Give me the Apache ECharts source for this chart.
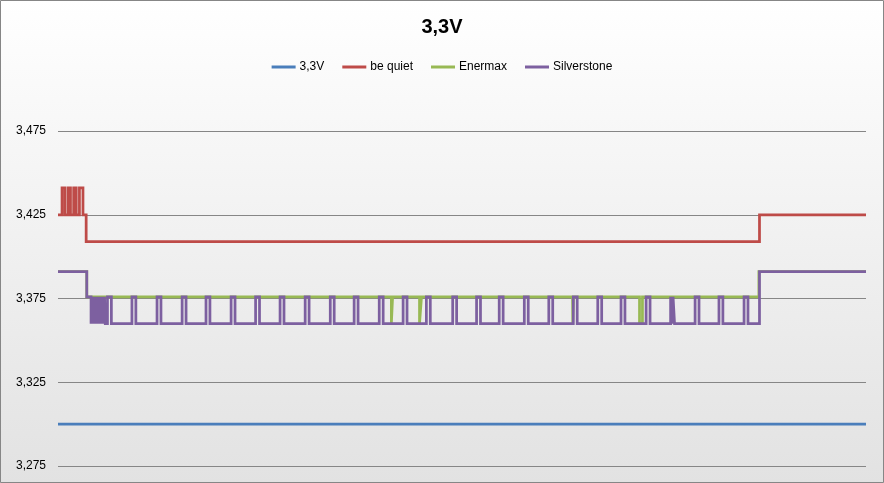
<!DOCTYPE html>
<html><head><meta charset="utf-8">
<script src="https://cdn.jsdelivr.net/npm/echarts@6/dist/echarts.min.js"></script>
<style>html,body{margin:0;padding:0;background:#fff}#c{width:884px;height:483px;}</style>
</head><body><div id="c"></div>
<script>
// ---- data (time in half-sample units, voltage in V) ----
const titleText = '3,3V';
const seriesNames = ['3,3V', 'be quiet', 'Enermax', 'Silverstone'];
const yTicks = [3.275, 3.325, 3.375, 3.425, 3.475];
const timeRange = [0, 660];

const rail33 = [[0, 3.3], [660, 3.3]];

const beQuiet = [
  [0, 3.425], [3.3, 3.425], [3.3, 3.441], [5.6, 3.441], [5.6, 3.425],
  [8.2, 3.425], [8.2, 3.441], [10.2, 3.441], [10.2, 3.425],
  [12.8, 3.425], [12.8, 3.441], [14.9, 3.441], [14.9, 3.425],
  [17.5, 3.425], [17.5, 3.441], [20.4, 3.441], [20.4, 3.425],
  [23, 3.425], [23, 3.409], [573, 3.409], [573, 3.425], [660, 3.425]
];

const enermax = [
  [0, 3.391], [23.5, 3.391], [23.5, 3.376],
  [272.3, 3.376], [272.3, 3.36], [273.3, 3.36], [273.3, 3.376],
  [295.3, 3.376], [295.3, 3.36], [296.9, 3.36], [296.9, 3.376],
  [420.3, 3.376], [420.5, 3.36], [420.9, 3.36], [421.1, 3.376],
  [475, 3.376], [475, 3.36], [477.4, 3.36], [477.4, 3.376],
  [572.5, 3.376], [572.5, 3.391], [660, 3.391]
];

const silverstone = [
  [0, 3.391], [23.5, 3.391], [23.5, 3.376], [27, 3.376],
  [27, 3.36], [28, 3.376], [29, 3.36], [30, 3.376], [31, 3.36], [32, 3.376], [33, 3.36],
  [34, 3.376], [35, 3.36], [36, 3.376], [37, 3.36], [38, 3.376], [38.6, 3.36],
  [40.4, 3.36], [40.4, 3.376], [43.6, 3.376], [43.6, 3.36],
  [60.4, 3.36], [60.4, 3.376], [63.6, 3.376], [63.6, 3.36],
  [80.9, 3.36], [80.9, 3.376], [84.1, 3.376], [84.1, 3.36],
  [101.4, 3.36], [101.4, 3.376], [104.6, 3.376], [104.6, 3.36],
  [120.9, 3.36], [120.9, 3.376], [124.1, 3.376], [124.1, 3.36],
  [141.4, 3.36], [141.4, 3.376], [144.6, 3.376], [144.6, 3.36],
  [161.4, 3.36], [161.4, 3.376], [164.6, 3.376], [164.6, 3.36],
  [181.4, 3.36], [181.4, 3.376], [184.6, 3.376], [184.6, 3.36],
  [201.9, 3.36], [201.9, 3.376], [205.1, 3.376], [205.1, 3.36],
  [222.4, 3.36], [222.4, 3.376], [225.6, 3.376], [225.6, 3.36],
  [241.9, 3.36], [241.9, 3.376], [245.1, 3.376], [245.1, 3.36],
  [262.4, 3.36], [262.4, 3.376], [265.6, 3.376], [265.6, 3.36],
  [281.9, 3.36], [281.9, 3.376], [285.1, 3.376], [285.1, 3.36],
  [300.9, 3.36], [300.9, 3.376], [304.1, 3.376], [304.1, 3.36],
  [322.4, 3.36], [322.4, 3.376], [325.6, 3.376], [325.6, 3.36],
  [341.9, 3.36], [341.9, 3.376], [345.1, 3.376], [345.1, 3.36],
  [360.4, 3.36], [360.4, 3.376], [363.6, 3.376], [363.6, 3.36],
  [380.9, 3.36], [380.9, 3.376], [384.1, 3.376], [384.1, 3.36],
  [400.9, 3.36], [400.9, 3.376], [404.1, 3.376], [404.1, 3.36],
  [420.9, 3.36], [420.9, 3.376], [424.1, 3.376], [424.1, 3.36],
  [440.9, 3.36], [440.9, 3.376], [444.1, 3.376], [444.1, 3.36],
  [459.9, 3.36], [459.9, 3.376], [463.1, 3.376], [463.1, 3.36],
  [480.4, 3.36], [480.4, 3.376], [483.6, 3.376], [483.6, 3.36],
  [500.4, 3.36], [500.4, 3.376], [501.4, 3.36], [502.4, 3.376], [503.6, 3.376], [503.6, 3.36],
  [520.4, 3.36], [520.4, 3.376], [523.6, 3.376], [523.6, 3.36],
  [539.9, 3.36], [539.9, 3.376], [543.1, 3.376], [543.1, 3.36],
  [560.4, 3.36], [560.4, 3.376], [563.6, 3.376], [563.6, 3.36],
  [573, 3.36], [573, 3.391], [660, 3.391]
];

const seriesData = [rail33, beQuiet, enermax, silverstone];
const seriesColors = ['#4A7EBB', '#BE4B48', '#98B954', '#7D60A0'];

// ---- chart ----
const chart = echarts.init(document.getElementById('c'), null, { renderer: 'canvas' });
const fontUI = '"Liberation Sans", Arial, sans-serif';
chart.setOption({
  animation: false,
  backgroundColor: {
    type: 'linear', x: 0, y: 0, x2: 0, y2: 1,
    colorStops: [{ offset: 0, color: '#ffffff' }, { offset: 1, color: '#e2e2e2' }]
  },
  graphic: [{
    type: 'rect', silent: true, z: 100,
    shape: { x: 0.5, y: 0.5, width: 883, height: 482 },
    style: { fill: 'none', stroke: '#868686', lineWidth: 1 }
  }],
  title: {
    text: titleText, left: 'center', top: 12,
    textStyle: { fontFamily: fontUI, fontWeight: 'bold', fontSize: 20, color: '#000' }
  },
  legend: {
    top: 56, left: 'center', icon: 'rect', itemWidth: 24, itemHeight: 3, itemGap: 18,
    data: seriesNames,
    textStyle: { fontFamily: fontUI, fontSize: 12, color: '#000', padding: [0, 0, 0, -1] }
  },
  grid: { left: 58, right: 18, top: 131, bottom: 17, containLabel: false },
  xAxis: {
    type: 'value', min: timeRange[0], max: timeRange[1], show: false
  },
  yAxis: {
    type: 'value', min: yTicks[0], max: yTicks[yTicks.length - 1], interval: 0.05,
    axisLine: { show: false }, axisTick: { show: false },
    axisLabel: {
      margin: 12, fontFamily: fontUI, fontSize: 12, color: '#000',
      formatter: v => v.toFixed(3).replace('.', ',')
    },
    splitLine: { lineStyle: { color: '#868686', width: 1 } }
  },
  series: seriesNames.map((n, i) => ({
    name: n, type: 'line', data: seriesData[i], symbol: 'none', showSymbol: false,
    color: seriesColors[i],
    lineStyle: { width: 2.75, color: seriesColors[i], join: 'miter', cap: 'butt' },
    z: 2 + i
  }))
});
</script>
</body></html>
